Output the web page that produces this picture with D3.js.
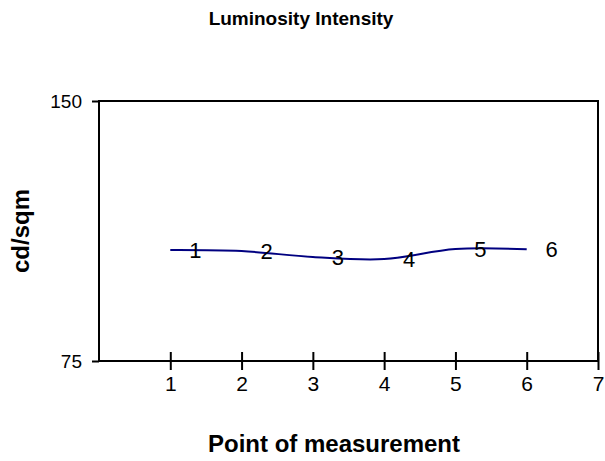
<!DOCTYPE html>
<html>
<head>
<meta charset="utf-8">
<script src="https://cdn.jsdelivr.net/npm/d3@7"></script>
<style>
  body { margin: 0; background: #fff; }
  svg { display: block; font-family: "Liberation Sans", Arial, sans-serif; }
</style>
</head>
<body>
<div id="chart"></div>
<script>
const points = [1, 2, 3, 4, 5, 6];
const values = [107.0, 106.7, 105.0, 104.4, 107.3, 107.2];
const pointLabels = ['1', '2', '3', '4', '5', '6'];
const xTicks = [1, 2, 3, 4, 5, 6, 7];
const yTicks = [75, 150];

const width = 605;
const height = 461;
const margin = { top: 101, right: 7, bottom: 100, left: 99 };

const x = d3.scaleLinear().domain([0, 7]).range([margin.left, width - margin.right]);
const y = d3.scaleLinear().domain([75, 150]).range([height - margin.bottom, margin.top]);

const svg = d3.select('#chart')
  .append('svg')
  .attr('width', width)
  .attr('height', height);

// plot frame
svg.append('rect')
  .attr('x', x(0))
  .attr('y', y(150))
  .attr('width', x(7) - x(0))
  .attr('height', y(75) - y(150))
  .attr('fill', 'none')
  .attr('stroke', '#000')
  .attr('stroke-width', 2);

const xAxis = svg.append('g')
  .attr('transform', `translate(0, ${y(75)})`)
  .call(d3.axisBottom(x).tickValues(xTicks).tickSize(9).tickPadding(6).tickFormat(d3.format('d')));
xAxis.select('.domain').remove();
xAxis.selectAll('.tick line').attr('y1', -9).attr('stroke-width', 2);
xAxis.selectAll('.tick text').attr('font-size', 21).attr('fill', '#000');

const yAxis = svg.append('g')
  .attr('transform', `translate(${x(0)}, 0)`)
  .call(d3.axisLeft(y).tickValues(yTicks).tickSize(7).tickPadding(10));
yAxis.select('.domain').remove();
yAxis.selectAll('.tick line').attr('stroke-width', 2);
yAxis.selectAll('.tick text').attr('font-size', 19).attr('fill', '#000');

const line = d3.line()
  .x((d, i) => x(points[i]))
  .y((d) => y(d))
  .curve(d3.curveCatmullRom.alpha(0.5));

svg.append('path')
  .datum(values)
  .attr('d', line)
  .attr('fill', 'none')
  .attr('stroke', '#000080')
  .attr('stroke-width', 2);

svg.append('g')
  .selectAll('text')
  .data(values)
  .enter().append('text')
    .attr('x', (d, i) => x(points[i]) + 25)
    .attr('y', (d) => y(d))
    .attr('dy', '0.36em')
    .attr('text-anchor', 'middle')
    .attr('font-size', 22)
    .text((d, i) => pointLabels[i]);

svg.append('text')
  .attr('x', 301)
  .attr('y', 25)
  .attr('text-anchor', 'middle')
  .attr('font-size', 19)
  .attr('font-weight', 'bold')
  .text('Luminosity Intensity');

svg.append('text')
  .attr('x', 334)
  .attr('y', 452)
  .attr('text-anchor', 'middle')
  .attr('font-size', 24)
  .attr('font-weight', 'bold')
  .text('Point of measurement');

svg.append('text')
  .attr('transform', `translate(29, ${(y(75) + y(150)) / 2}) rotate(-90)`)
  .attr('text-anchor', 'middle')
  .attr('font-size', 24)
  .attr('font-weight', 'bold')
  .text('cd/sqm');
</script>
</body>
</html>
